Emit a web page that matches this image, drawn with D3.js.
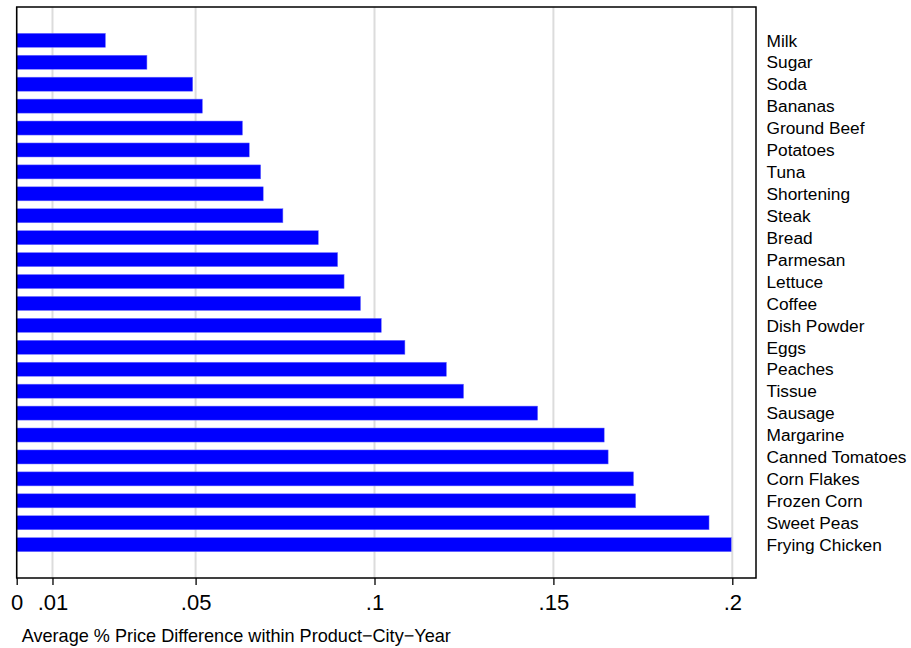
<!DOCTYPE html>
<html>
<head>
<meta charset="utf-8">
<script src="https://cdn.jsdelivr.net/npm/d3@7"></script>
<style>
  html, body { margin: 0; padding: 0; background: #fff; }
  svg { display: block; font-family: "Liberation Sans", Arial, sans-serif; }
</style>
</head>
<body>
<svg id="chart" width="911" height="648"></svg>
<script>
const categories = ["Milk","Sugar","Soda","Bananas","Ground Beef","Potatoes","Tuna","Shortening","Steak","Bread","Parmesan","Lettuce","Coffee","Dish Powder","Eggs","Peaches","Tissue","Sausage","Margarine","Canned Tomatoes","Corn Flakes","Frozen Corn","Sweet Peas","Frying Chicken"];
const values = [0.0248,0.0364,0.0492,0.0519,0.0631,0.0650,0.0682,0.0689,0.0744,0.0843,0.0897,0.0915,0.0961,0.1019,0.1085,0.1201,0.1249,0.1456,0.1642,0.1653,0.1724,0.1730,0.1935,0.1997];
const tickValues = [0, 0.01, 0.05, 0.1, 0.15, 0.2];
const tickLabels = ["0", ".01", ".05", ".1", ".15", ".2"];
const axisTitle = "Average % Price Difference within Product\u2212City\u2212Year";

const svg = d3.select("#chart");
const pLeft = 16.7, pRight = 756, pTop = 7, pBottom = 578;

const x = d3.scaleLinear().domain([0, 0.2]).range([pLeft, 732.3]);
const y = d3.scaleBand().domain(categories).range([pTop, pBottom]).paddingInner(0.36).paddingOuter(1.2);

// gridlines
svg.append("g").selectAll("line").data(tickValues).join("line")
  .attr("x1", d => x(d)).attr("x2", d => x(d))
  .attr("y1", pTop).attr("y2", pBottom)
  .attr("stroke", "#dcdcdc").attr("stroke-width", 2);

// bars
svg.append("g").selectAll("rect").data(categories).join("rect")
  .attr("x", x(0))
  .attr("y", d => y(d))
  .attr("width", (d, i) => x(values[i]) - x(0))
  .attr("height", y.bandwidth())
  .attr("fill", "#0000ff")
  .attr("stroke", "#7777ff").attr("stroke-width", 0.5);

// frame
svg.append("rect")
  .attr("x", pLeft).attr("y", pTop)
  .attr("width", pRight - pLeft).attr("height", pBottom - pTop)
  .attr("fill", "none").attr("stroke", "#000").attr("stroke-width", 1.5);

// category labels
svg.append("g").selectAll("text").data(categories).join("text")
  .attr("x", 766.5)
  .attr("y", d => y(d) + y.bandwidth() / 2)
  .attr("dy", "0.36em")
  .attr("font-size", 17.3)
  .attr("fill", "#000")
  .text(d => d);

// x axis
const axis = d3.axisBottom(x)
  .tickValues(tickValues)
  .tickFormat((d, i) => tickLabels[i])
  .tickSize(7)
  .tickPadding(9.4);
const gx = svg.append("g").attr("transform", `translate(0,${pBottom})`).call(axis);
gx.select(".domain").remove();
gx.selectAll(".tick line").attr("stroke", "#000").attr("stroke-width", 1.3);
gx.selectAll(".tick text")
  .attr("font-size", 22)
  .attr("font-family", "Liberation Sans, Arial, sans-serif")
  .attr("fill", "#000");

// axis title
svg.append("text")
  .attr("x", 21.7).attr("y", 641.5)
  .attr("font-size", 18.1)
  .attr("fill", "#000")
  .text(axisTitle);
</script>
</body>
</html>
